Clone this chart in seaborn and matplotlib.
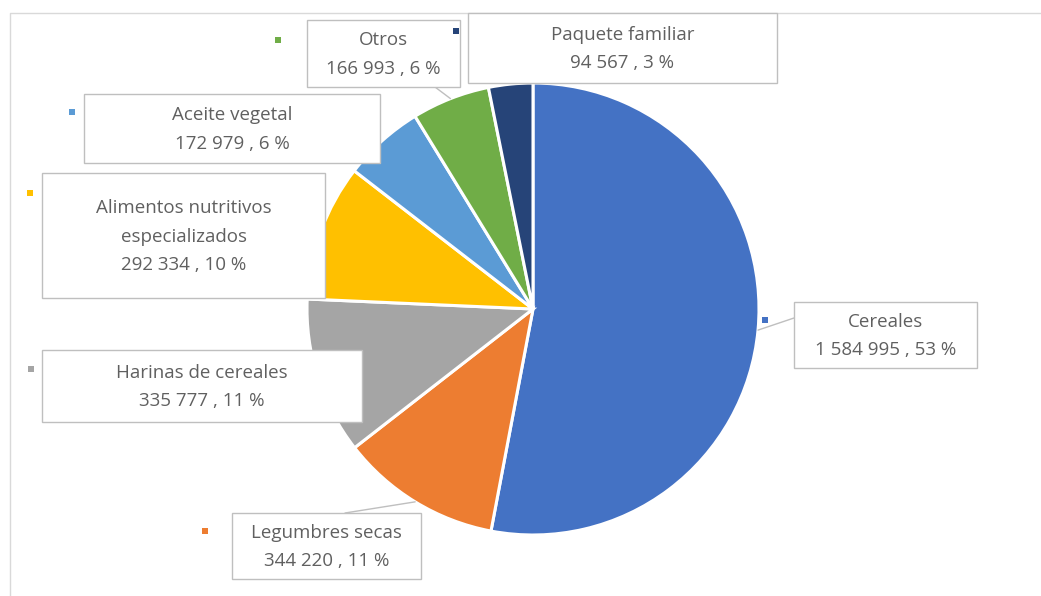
import numpy as np
import matplotlib
matplotlib.use("Agg")
import matplotlib.pyplot as plt
from matplotlib.patches import Rectangle
import seaborn as sns

# data (clockwise from 12 o'clock)
categories = ["Cereales", "Legumbres secas", "Harinas de cereales",
              "Alimentos nutritivos\nespecializados", "Aceite vegetal",
              "Otros", "Paquete familiar"]
values = [1584995, 344220, 335777, 292334, 172979, 166993, 94567]
percents = [53, 11, 11, 10, 6, 6, 3]
colors = ["#4472C4", "#ED7D31", "#A5A5A5", "#FFC000", "#5B9BD5", "#70AD47", "#264478"]

W, H = 1041, 596


def Y(y):
    # pixel row (top-down) -> data y (bottom-up)
    return H - y


def fmt(v):
    return f"{v:,}".replace(",", " ")


sns.set_theme(style="white")
plt.rcParams["font.family"] = ["Open Sans", "DejaVu Sans"]

fig = plt.figure(figsize=(W / 100, H / 100), dpi=100)
ax = fig.add_axes([0, 0, 1, 1])

cx, cy, r = 533, 309, 226
wedges, _ = ax.pie(values, colors=sns.color_palette(colors), startangle=90,
                   counterclock=False, center=(cx, Y(cy)), radius=r,
                   wedgeprops=dict(edgecolor="white", linewidth=2.2))
ax.set_xlim(0, W)
ax.set_ylim(0, H)
ax.set_axis_off()

# chart area border
ax.plot([10, 10, W], [0, Y(13), Y(13)], color="#d9d9d9", lw=1, zorder=1)

# label boxes: (x0, y0, x1, y1) in pixels, marker position
boxes = [
    ((794, 302, 977, 368), (765, 320)),
    ((232, 513, 421, 579), (205, 531)),
    ((42, 350, 362, 422), (31, 369)),
    ((42, 173, 325, 298), (30, 193)),
    ((84, 94, 380, 163), (72, 112)),
    ((307, 20, 460, 87), (278, 40)),
    ((468, 13, 777, 83), (456, 31)),
]
# where the leader lines meet the boxes (only where box is away from the pie)
anchors = {0: (794, 318), 1: (345, 513), 5: (435, 87)}

for i, (name, v, p, c) in enumerate(zip(categories, values, percents, colors)):
    (x0, y0, x1, y1), (mx, my) = boxes[i]
    ax.add_patch(Rectangle((x0, Y(y1)), x1 - x0, y1 - y0, fc="white",
                           ec="#bfbfbf", lw=1, zorder=3))
    ax.text((x0 + x1) / 2, Y((y0 + y1) / 2 + 1), f"{name}\n{fmt(v)} , {p} %",
            ha="center", va="center", fontsize=13.5, color="#606060",
            linespacing=1.78, zorder=4)
    ax.add_patch(Rectangle((mx - 3, Y(my) - 3), 6, 6, fc=c, ec="none", zorder=4))
    if i in anchors:
        w = wedges[i]
        mid = np.deg2rad((w.theta1 + w.theta2) / 2)
        ex, ey = cx + r * np.cos(mid), Y(cy) + r * np.sin(mid)
        axx, axy = anchors[i]
        ax.plot([ex, axx], [ey, Y(axy)], color="#bfbfbf", lw=1, zorder=2)

fig.savefig("out.png", dpi=100)
